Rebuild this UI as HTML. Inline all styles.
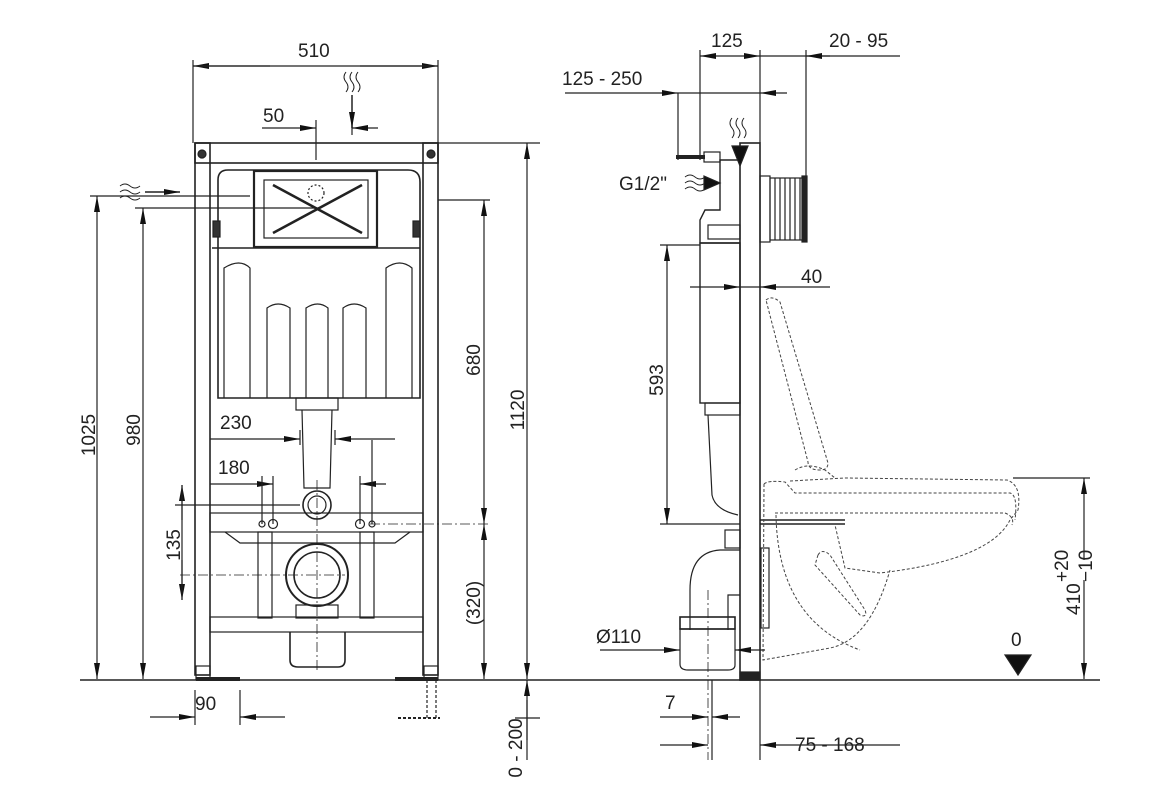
<!DOCTYPE html>
<html><head><meta charset="utf-8"><style>
html,body{margin:0;padding:0;background:#fff;}
svg{display:block;}
text{font-family:"Liberation Sans",sans-serif;font-size:19px;fill:#222;}
</style></head><body>
<svg width="1160" height="800" viewBox="0 0 1160 800" xmlns="http://www.w3.org/2000/svg">
<defs>
<marker id="a" viewBox="0 0 16 6" refX="16" refY="3" markerWidth="16" markerHeight="6" orient="auto" markerUnits="userSpaceOnUse"><path d="M0,0 L16,3 L0,6 Z" fill="#111"/></marker>
</defs>
<g stroke="#222" stroke-width="1.2" fill="none">
<line x1="80" y1="680" x2="1100" y2="680" stroke-width="1.6"/>

<rect x="195" y="143" width="243" height="20" stroke-width="1.6"/>
<rect x="195" y="143" width="15" height="532" stroke-width="1.6"/>
<rect x="423" y="143" width="15" height="532" stroke-width="1.6"/>
<circle cx="202" cy="154" r="4" fill="#333"/><circle cx="431" cy="154" r="4" fill="#333"/>
<path d="M218,398 L218,180 Q218,170 228,170 L408,170 Q420,170 420,182 L420,398 Z" stroke-width="1.6"/>
<line x1="212" y1="248" x2="420" y2="248" stroke-width="1.4"/>
<rect x="254" y="171" width="123" height="76" stroke-width="2.2"/>
<rect x="264" y="180" width="104" height="58" stroke-width="1.2"/>
<line x1="273" y1="185" x2="362" y2="233" stroke-width="2.6"/>
<line x1="273" y1="233" x2="362" y2="185" stroke-width="2.6"/>
<circle cx="316" cy="193" r="8" stroke-dasharray="2 2"/>
<path d="M224,398 V268 Q240,258 250,268 V398"/>
<path d="M386,398 V268 Q400,258 412,268 V398"/>
<path d="M267,398 V308 Q278,300 290,308 V398"/>
<path d="M306,398 V308 Q318,300 328,308 V398"/>
<path d="M343,398 V308 Q354,300 366,308 V398"/>
<rect x="213" y="221" width="7" height="16" fill="#333"/><rect x="413" y="221" width="7" height="16" fill="#333"/>
<rect x="296" y="398" width="42" height="12"/>
<path d="M302,410 L304,488 L330,488 L332,410"/>
<circle cx="317" cy="505" r="14" stroke-width="1.6"/><circle cx="317" cy="505" r="9"/>
<rect x="210" y="513" width="213" height="19"/>
<path d="M225,532 L240,543 L395,543 L410,532"/>
<rect x="258" y="532" width="14" height="86"/><rect x="360" y="532" width="14" height="86"/>
<circle cx="317" cy="575" r="31" stroke-width="2"/><circle cx="317" cy="575" r="23" stroke-width="1.6"/>
<rect x="296" y="605" width="42" height="13"/>
<rect x="210" y="617" width="213" height="15"/>
<path d="M290,632 V660 Q290,667 298,667 H338 Q345,667 345,660 V632" stroke-width="1.6"/>
<circle cx="262" cy="524" r="3"/><circle cx="273" cy="524" r="4.5"/><circle cx="360" cy="524" r="4.5"/><circle cx="372" cy="524" r="3"/>
<rect x="196" y="666" width="14" height="14"/><rect x="424" y="666" width="14" height="14"/>
<line x1="196" y1="679" x2="240" y2="679" stroke-width="4"/><line x1="395" y1="679" x2="438" y2="679" stroke-width="4"/>
<line x1="317" y1="480" x2="317" y2="670" stroke-dasharray="10 3 2 3" stroke-width="0.8"/>
<line x1="180" y1="575" x2="345" y2="575" stroke-dasharray="10 3 2 3" stroke-width="0.8"/>
<line x1="370" y1="524" x2="490" y2="524" stroke-dasharray="10 3 2 3" stroke-width="0.8"/>
<line x1="427" y1="680" x2="427" y2="718" stroke-dasharray="3 2"/><line x1="436" y1="680" x2="436" y2="718" stroke-dasharray="3 2"/>
<line x1="398" y1="718" x2="440" y2="718" stroke-dasharray="3 2" stroke-width="2"/>

<line x1="193" y1="60" x2="193" y2="143"/><line x1="438" y1="60" x2="438" y2="143"/>
<line x1="270" y1="66" x2="193" y2="66" marker-end="url(#a)"/><line x1="360" y1="66" x2="438" y2="66" marker-end="url(#a)"/>
<line x1="193" y1="66" x2="438" y2="66"/>
<line x1="262" y1="128" x2="316" y2="128" marker-end="url(#a)"/><line x1="378" y1="128" x2="352" y2="128" marker-end="url(#a)"/>
<line x1="316" y1="120" x2="316" y2="160"/><line x1="352" y1="120" x2="352" y2="135"/>
<line x1="352" y1="95" x2="352" y2="128" marker-end="url(#a)" stroke-width="1.5"/>
<path d="M346,72 q-4,5 0,10 q4,5 0,10 M352,72 q-4,5 0,10 q4,5 0,10 M358,72 q-4,5 0,10 q4,5 0,10" stroke-width="1"/>
<path d="M120,186 q5,-4 10,0 q5,4 10,0 M120,192 q5,-4 10,0 q5,4 10,0 M120,198 q5,-4 10,0 q5,4 10,0" stroke-width="1"/>
<line x1="145" y1="192" x2="180" y2="192" marker-end="url(#a)" stroke-width="1.5"/>
<line x1="90" y1="196" x2="250" y2="196"/>
<line x1="135" y1="208" x2="320" y2="208"/>
<line x1="438" y1="200" x2="490" y2="200"/>
<line x1="438" y1="143" x2="540" y2="143"/>
<line x1="97" y1="430" x2="97" y2="196" marker-end="url(#a)"/><line x1="97" y1="430" x2="97" y2="679" marker-end="url(#a)"/>
<line x1="143" y1="430" x2="143" y2="208" marker-end="url(#a)"/><line x1="143" y1="430" x2="143" y2="679" marker-end="url(#a)"/>
<line x1="527" y1="400" x2="527" y2="143" marker-end="url(#a)"/><line x1="527" y1="400" x2="527" y2="679" marker-end="url(#a)"/>
<line x1="484" y1="360" x2="484" y2="200" marker-end="url(#a)"/><line x1="484" y1="360" x2="484" y2="524" marker-end="url(#a)"/>
<line x1="484" y1="600" x2="484" y2="524" marker-end="url(#a)"/><line x1="484" y1="600" x2="484" y2="679" marker-end="url(#a)"/>
<line x1="527" y1="740" x2="527" y2="680" marker-end="url(#a)"/><line x1="527" y1="700" x2="527" y2="760"/>
<line x1="515" y1="718" x2="540" y2="718"/>
<line x1="182" y1="520" x2="182" y2="485" marker-end="url(#a)"/><line x1="182" y1="560" x2="182" y2="600" marker-end="url(#a)"/>
<line x1="182" y1="485" x2="182" y2="600"/>
<line x1="175" y1="505" x2="300" y2="505"/>
<line x1="210" y1="439" x2="300" y2="439" marker-end="url(#a)"/><line x1="395" y1="439" x2="335" y2="439" marker-end="url(#a)"/>
<line x1="300" y1="430" x2="300" y2="445"/><line x1="335" y1="430" x2="335" y2="445"/>
<line x1="210" y1="484" x2="273" y2="484" marker-end="url(#a)"/><line x1="386" y1="484" x2="360" y2="484" marker-end="url(#a)"/>
<line x1="262" y1="476" x2="262" y2="524"/><line x1="273" y1="476" x2="273" y2="524"/><line x1="360" y1="476" x2="360" y2="524"/><line x1="372" y1="440" x2="372" y2="524"/>
<line x1="195" y1="690" x2="195" y2="725"/><line x1="240" y1="690" x2="240" y2="725"/>
<line x1="150" y1="717" x2="195" y2="717" marker-end="url(#a)"/><line x1="285" y1="717" x2="240" y2="717" marker-end="url(#a)"/>

<rect x="740" y="143" width="20" height="537" stroke-width="1.6"/>
<rect x="740" y="672" width="20" height="8" fill="#222"/>
<path d="M740,160 L720,160 L720,210 L705,210 L700,220 L700,243 L740,243" stroke-width="1.4"/>
<rect x="700" y="243" width="40" height="160" stroke-width="1.4"/>
<rect x="705" y="403" width="35" height="12"/>
<path d="M708,415 L712,495 Q715,510 738,515"/>
<rect x="760" y="176" width="10" height="66"/>
<rect x="770" y="178" width="35" height="62"/>
<path d="M775,178 V240 M780,178 V240 M785,178 V240 M790,178 V240 M795,178 V240 M800,178 V240"/>
<rect x="802" y="176" width="5" height="66" fill="#222"/>
<rect x="708" y="225" width="32" height="14"/>
<line x1="676" y1="157" x2="705" y2="157" stroke-width="4"/>
<rect x="704" y="152" width="16" height="10"/>
<path d="M732,146 L748,146 L740,166 Z" fill="#111"/>
<path d="M732,118 q-4,5 0,10 q4,5 0,10 M738,118 q-4,5 0,10 q4,5 0,10 M744,118 q-4,5 0,10 q4,5 0,10" stroke-width="1"/>
<path d="M685,177 q5,-4 10,0 q5,4 10,0 M685,183 q5,-4 10,0 q5,4 10,0 M685,189 q5,-4 10,0 q5,4 10,0" stroke-width="1"/>
<path d="M704,176 L720,183 L704,190 Z" fill="#111"/>
<rect x="725" y="530" width="15" height="18"/>
<path d="M740,550 L720,550 Q690,552 690,590 L690,630 M740,595 L728,595 L728,630"/>
<rect x="680" y="617" width="55" height="12" stroke-width="1.6"/>
<path d="M680,629 H735 V665 Q735,670 728,670 H688 Q680,670 680,664 Z"/>
<rect x="761" y="548" width="8" height="80"/>
<line x1="760" y1="520" x2="845" y2="520" stroke-width="1.5"/><line x1="760" y1="524" x2="845" y2="524" stroke-width="1.5"/>
<line x1="708" y1="590" x2="708" y2="760" stroke-dasharray="10 3 2 3" stroke-width="0.8"/>
<line x1="712" y1="680" x2="712" y2="760"/>
<g stroke-dasharray="3 2" stroke="#444" stroke-width="1">
<path d="M766,300 Q772,295 780,302 L828,463 Q828,470 820,470 Q808,470 808,462 Z"/>
<path d="M795,470 Q808,462 825,470 L835,478"/>
<path d="M764,484 Q768,480 785,482 L795,493 L1010,493 Q1018,495 1015,520"/>
<path d="M790,481 L845,478 L1007,480 Q1022,485 1018,510 L1010,520 Q990,560 880,573 L845,568 L835,525"/>
<path d="M775,513 L1005,513 Q1015,517 1012,525"/>
<path d="M764,484 L763,660 L830,648 Q870,640 890,570"/>
<path d="M776,515 Q778,620 860,650"/>
<path d="M818,555 Q822,548 830,555 L865,610 Q868,618 860,615 L815,565 Z"/>
</g>
<line x1="1013" y1="478" x2="1090" y2="478"/>
<line x1="1084" y1="560" x2="1084" y2="478" marker-end="url(#a)"/><line x1="1084" y1="580" x2="1084" y2="679" marker-end="url(#a)"/>
<path d="M1005,655 L1031,655 L1018,675 Z" fill="#111"/>
<line x1="678" y1="93" x2="678" y2="160"/><line x1="700" y1="50" x2="700" y2="160"/><line x1="760" y1="50" x2="760" y2="143"/><line x1="806" y1="50" x2="806" y2="176"/>
<line x1="730" y1="56" x2="700" y2="56" marker-end="url(#a)"/><line x1="730" y1="56" x2="760" y2="56" marker-end="url(#a)"/>
<line x1="760" y1="56" x2="900" y2="56"/><line x1="830" y1="56" x2="806" y2="56" marker-end="url(#a)"/>
<line x1="565" y1="93" x2="678" y2="93" marker-end="url(#a)"/><line x1="787" y1="93" x2="760" y2="93" marker-end="url(#a)"/><line x1="678" y1="93" x2="760" y2="93"/>
<line x1="690" y1="287" x2="740" y2="287" marker-end="url(#a)"/><line x1="830" y1="287" x2="760" y2="287" marker-end="url(#a)"/>
<line x1="740" y1="287" x2="760" y2="287"/>
<line x1="660" y1="245" x2="700" y2="245"/><line x1="660" y1="524" x2="740" y2="524"/>
<line x1="667" y1="380" x2="667" y2="245" marker-end="url(#a)"/><line x1="667" y1="380" x2="667" y2="524" marker-end="url(#a)"/>
<line x1="600" y1="650" x2="680" y2="650" marker-end="url(#a)"/><line x1="765" y1="650" x2="735" y2="650" marker-end="url(#a)"/>
<line x1="660" y1="717" x2="708" y2="717" marker-end="url(#a)"/><line x1="740" y1="717" x2="712" y2="717" marker-end="url(#a)"/>
<line x1="760" y1="680" x2="760" y2="760"/>
<line x1="660" y1="745" x2="708" y2="745" marker-end="url(#a)"/><line x1="900" y1="745" x2="760" y2="745" marker-end="url(#a)"/>
</g>
<text x="298" y="57">510</text>
<text x="263" y="122">50</text>
<text x="220" y="429">230</text>
<text x="218" y="474">180</text>
<text x="195" y="710">90</text>
<text transform="translate(95,435) rotate(-90)" text-anchor="middle">1025</text>
<text transform="translate(140,430) rotate(-90)" text-anchor="middle">980</text>
<text transform="translate(480,360) rotate(-90)" text-anchor="middle">680</text>
<text transform="translate(524,410) rotate(-90)" text-anchor="middle">1120</text>
<text transform="translate(480,603) rotate(-90)" text-anchor="middle">(320)</text>
<text transform="translate(180,545) rotate(-90)" text-anchor="middle">135</text>
<text transform="translate(522,748) rotate(-90)" text-anchor="middle">0 - 200</text>
<text x="711" y="47">125</text>
<text x="829" y="47">20 - 95</text>
<text x="562" y="85">125 - 250</text>
<text x="619" y="190">G1/2"</text>
<text x="801" y="283">40</text>
<text transform="translate(663,380) rotate(-90)" text-anchor="middle">593</text>
<text x="596" y="643">Ø110</text>
<text x="665" y="709">7</text>
<text x="795" y="751">75 - 168</text>
<text x="1011" y="646">0</text>
<g transform="translate(1080,615) rotate(-90)">
<text x="0" y="0">410</text>
<text x="33" y="-12">+20</text>
<text x="33" y="12">−10</text>
</g>
</svg>
</body></html>
